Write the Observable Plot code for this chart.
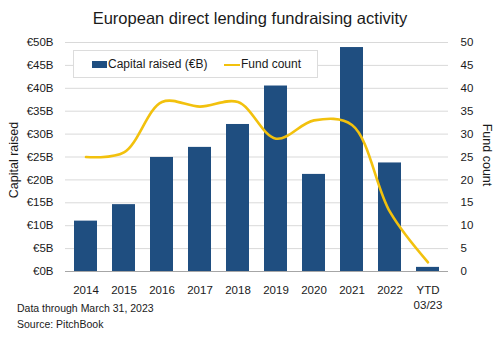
<!DOCTYPE html>
<html>
<head>
<meta charset="utf-8">
<script src="https://cdn.jsdelivr.net/npm/d3@7"></script>
<script src="https://cdn.jsdelivr.net/npm/@observablehq/plot@0.6"></script>
<style>
  html, body { margin: 0; padding: 0; background: #fff; }
  #wrap { position: relative; width: 500px; height: 341px; overflow: hidden;
    font-family: "Liberation Sans", Arial, sans-serif; color: #1a1a1a; }
  #title { position: absolute; left: 0; top: 6px; width: 500px; text-align: center; font-size: 16.5px; line-height: 24px; }
  #chart { position: absolute; left: 0; top: 0; }
  #legend { position: absolute; left: 73px; top: 50px; width: 245px; height: 28px; background: #fff;
    border: 1px solid #dcdcdc; box-sizing: border-box; font-size: 12px; }
  .sw { position: absolute; }
  .lt { position: absolute; top: 6px; line-height: 14px; white-space: nowrap; }
  #footer { position: absolute; left: 17px; top: 301px; font-size: 10.5px; line-height: 15.5px; }
</style>
</head>
<body>
<div id="wrap">
  <div id="chart"></div>
  <div id="title">European direct lending fundraising activity</div>
  <div id="legend"></div>
  <div id="footer"></div>
</div>
<script>
// ---- data ----
const categories = ["2014", "2015", "2016", "2017", "2018", "2019", "2020", "2021", "2022", "YTD 03/23"];
const capitalRaised = [11.0, 14.6, 24.9, 27.1, 32.1, 40.5, 21.2, 48.9, 23.7, 0.9];
const fundCount = [25, 26, 37, 36, 37, 29, 33, 32, 13, 2];
const xTickLabels = ["2014", "2015", "2016", "2017", "2018", "2019", "2020", "2021", "2022", "YTD\n03/23"];
const yTicks = [0, 5, 10, 15, 20, 25, 30, 35, 40, 45, 50];
const seriesNames = ["Capital raised (€B)", "Fund count"];
const axisTitles = ["Capital raised", "Fund count"];
const footerLines = ["Data through March 31, 2023", "Source: PitchBook"];

const barColor = "#1f4e80";
const lineColor = "#f2c10d";
const fontFam = '"Liberation Sans", Arial, sans-serif';

const rows = categories.map((c, i) => ({cat: c, capital: capitalRaised[i], funds: fundCount[i]}));
const labelOf = new Map(categories.map((c, i) => [c, xTickLabels[i]]));

const chart = Plot.plot({
  width: 500,
  height: 341,
  marginTop: 42,
  marginBottom: 70,
  marginLeft: 65,
  marginRight: 52,
  style: {fontFamily: fontFam, fontSize: "11.5px", color: "#1a1a1a", background: "transparent"},
  x: {domain: categories, paddingInner: 0.39, paddingOuter: 0.2},
  y: {domain: [0, 50]},
  marks: [
    Plot.gridY(yTicks, {stroke: "#d9d9d9", strokeOpacity: 1}),
    Plot.barY(rows, {x: "cat", y: "capital", fill: barColor}),
    Plot.ruleY([0], {stroke: "#a6a6a6", strokeWidth: 1}),
    Plot.line(rows, {x: "cat", y: "funds", stroke: lineColor, strokeWidth: 2.6, curve: "catmull-rom"}),
    Plot.axisY({anchor: "left", ticks: yTicks, tickFormat: d => `€${d}B`, tickSize: 0, tickPadding: 12, label: null}),
    Plot.axisY({anchor: "right", ticks: yTicks, tickFormat: d => `${d}`, tickSize: 0, tickPadding: 12, label: null}),
    Plot.axisX({tickSize: 0, tickPadding: 11, label: null, lineHeight: 1.35, tickFormat: d => labelOf.get(d)})
  ]
});
document.getElementById("chart").appendChild(chart);

// axis titles
const svg = d3.select(chart);
svg.append("text")
  .attr("transform", "translate(14,160) rotate(-90)")
  .attr("text-anchor", "middle").attr("dominant-baseline", "central")
  .attr("fill", "#1a1a1a").style("font-size", "12.5px").text(axisTitles[0]);
svg.append("text")
  .attr("transform", "translate(487,155) rotate(90)")
  .attr("text-anchor", "middle").attr("dominant-baseline", "central")
  .attr("fill", "#1a1a1a").style("font-size", "12.5px").text(axisTitles[1]);

// legend
const legend = document.getElementById("legend");
legend.innerHTML =
  `<div class="sw" style="left:18px;top:10px;width:15px;height:7px;background:${barColor}"></div>` +
  `<div class="lt" style="left:34px">${seriesNames[0]}</div>` +
  `<div class="sw" style="left:150px;top:12.5px;width:16px;height:2.5px;background:${lineColor}"></div>` +
  `<div class="lt" style="left:167px">${seriesNames[1]}</div>`;

// footer
document.getElementById("footer").innerHTML = footerLines.map(l => `<div>${l}</div>`).join("");
</script>
</body>
</html>
